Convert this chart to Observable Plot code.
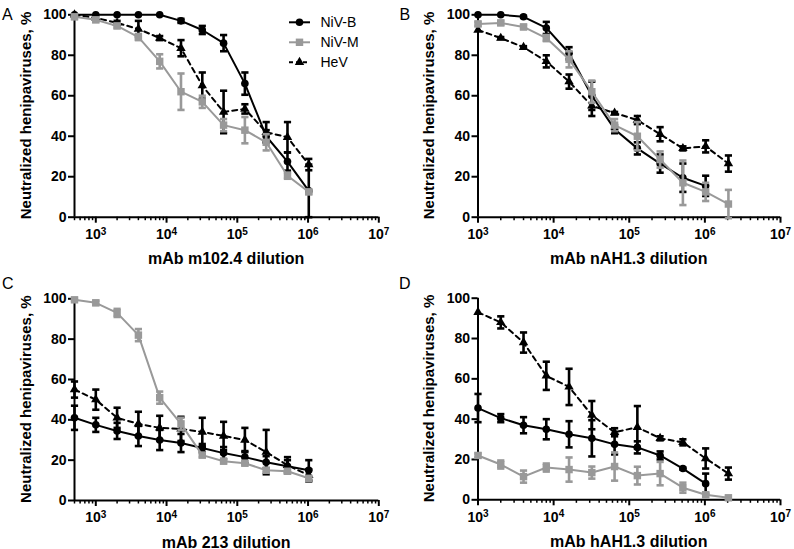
<!DOCTYPE html>
<html><head><meta charset="utf-8">
<script src="https://cdn.jsdelivr.net/npm/d3@7"></script>
<script src="https://cdn.jsdelivr.net/npm/@observablehq/plot@0.6"></script>
<style>
body{margin:0;background:#fff;}
#wrap{position:relative;width:794px;height:549px;overflow:hidden;background:#fff;font-family:Arial,"Liberation Sans",sans-serif;}
#wrap svg{position:absolute;overflow:visible;}
</style></head><body><div id="wrap"></div>
<script>
const FONT = 'Arial, "Liberation Sans", sans-serif';

// Dilutions (x values)
const dilutionsAC = [500, 1000, 2000, 4000, 8000, 16000, 32000, 64000, 128000, 256000, 512000, 1024000];
const dilutionsBD = [1000, 2000, 4000, 8000, 16000, 32000, 64000, 128000, 256000, 512000, 1024000, 2048000];

const seriesNames = ["NiV-B", "NiV-M", "HeV"];
const yTicks = [0, 20, 40, 60, 80, 100];
const xMajorTicks = [1e3, 1e4, 1e5, 1e6, 1e7];
const xMajorExponents = ["3", "4", "5", "6", "7"];

// Panel A: mAb m102.4
const aNivB  = [100, 100, 100, 100, 100, 97, 92.5, 86, 66, 40, 27.5, 13];
const aNivBe = [0, 0, 0, 0, 0, 1, 2, 4, 5.5, 3, 4.5, 13];
const aNivM  = [99, 97.5, 94.5, 89, 77, 62, 57, 45.5, 43, 37, 20.5, 12.5];
const aNivMe = [1, 1, 1, 1.5, 3.5, 9, 3, 3, 6.5, 4, 1.5, 1];
const aHeV   = [100, 98.5, 96, 93, 88.5, 83.5, 65, 52, 53.5, 42, 39.5, 26];
const aHeVe  = [0, 0, 1, 4, 1, 4, 6.5, 10.5, 2.3, 5, 7.5, 2.8];

// Panel B: mAb nAH1.3
const bNivB  = [100, 100, 99, 93.5, 81, 60, 43.5, 34, 26.5, 19.5, 15.5];
const bNivBe = [0, 0, 0.5, 3, 3, 7, 2, 3, 4.5, 7, 5];
const bNivM  = [95.5, 96, 94, 88.5, 78, 62, 45.5, 40, 28.5, 17, 12.5, 6.5];
const bNivMe = [1, 1, 1, 1.5, 4, 5.5, 3, 7, 4, 11, 4.5, 7];
const bHeV   = [92.5, 88.5, 84, 77, 67, 55, 51.5, 48, 41, 34, 35, 26.5];
const bHeVe  = [0, 0.5, 0.5, 3, 3.5, 5, 0.5, 2, 3.5, 1, 3, 4];

// Panel C: mAb 213
const cNivB  = [41, 37.5, 34.5, 32, 30, 28.5, 26, 23.5, 21.5, 19, 17, 15];
const cNivBe = [6, 3.5, 4, 5, 5, 4.5, 2, 3, 3, 3, 3, 5];
const cNivM  = [99.5, 98, 93, 82, 51, 38, 22.5, 19.5, 18.5, 15, 14.5, 11];
const cNivMe = [0.5, 1, 2, 3, 3, 3, 1, 1, 1, 1, 1, 1];
const cHeV   = [55, 50, 41, 38, 36, 35.5, 34, 32, 30, 24, 17.5, 12.5];
const cHeVe  = [4, 5, 5, 6, 6, 6, 7, 7, 6, 11, 4, 3];

// Panel D: mAb hAH1.3
const dNivB  = [45.5, 40.5, 37, 35, 32.5, 30.5, 27.5, 26, 22, 15.5, 8];
const dNivBe = [7, 2, 4, 5, 6.5, 9, 5, 3, 2, 0.5, 5];
const dNivM  = [22, 17.5, 11.5, 16, 15, 13.5, 16.5, 12, 13, 6, 2.5, 1];
const dNivMe = [1, 2, 3, 2, 6, 3, 7, 4.4, 5.8, 2.5, 1, 0.5];
const dHeV   = [93, 88, 78, 61.5, 56, 42, 33.5, 36, 30.5, 28.5, 20.5, 13];
const dHeVe  = [0, 3, 5, 7, 9, 7, 2, 10.5, 1, 1.5, 5, 3];

const xLabels = ["mAb m102.4 dilution", "mAb nAH1.3 dilution", "mAb 213 dilution", "mAb hAH1.3 dilution"];
const panelLetters = ["A", "B", "C", "D"];
const yLabel = "Neutralized henipaviruses, %";

const STY = {
  "NiV-B": {color: "#000", symbol: "circle", r: 3.8, dash: null},
  "NiV-M": {color: "#999", symbol: "square", r: 4.2, dash: null},
  "HeV":   {color: "#000", symbol: "triangle", r: 3.5, dash: "5,4"}
};

const capSymbol = {draw(ctx, size) { const r = Math.sqrt(size / Math.PI); ctx.moveTo(-r, 0); ctx.lineTo(r, 0); }};

function rows(xs, ys, es) { return ys.map((y, i) => ({x: xs[i], y, e: es[i]})); }

function minorTicks(lo, hi) {
  const out = [];
  for (let k = Math.floor(Math.log10(lo)); k < Math.log10(hi); k++)
    for (let m = 2; m <= 9; m++) { const v = m * Math.pow(10, k); if (v >= lo && v <= hi) out.push(v); }
  return out;
}

function panel(cfg) {
  const {left, top, width, height, mL, mR, mT, mB, domain, data, xLabel} = cfg;
  const order = ["HeV", "NiV-B", "NiV-M"];
  const marks = [];
  for (const name of order) {
    const s = STY[name];
    const d = data[name];
    marks.push(Plot.line(d, {x: "x", y: "y", stroke: s.color, strokeWidth: 2, strokeDasharray: s.dash}));
    const eb = d.filter(p => p.e > 0);
    marks.push(Plot.ruleX(eb, {x: "x", y1: p => p.y - p.e, y2: p => p.y + p.e, stroke: s.color, strokeWidth: 2.6}));
    const caps = eb.flatMap(p => [{x: p.x, y: p.y - p.e}, {x: p.x, y: p.y + p.e}]);
    marks.push(Plot.dot(caps, {x: "x", y: "y", symbol: capSymbol, r: 3.6, stroke: s.color, strokeWidth: 2.6, fill: "none"}));
    marks.push(Plot.dot(d, {x: "x", y: "y", symbol: s.symbol, r: s.r, fill: s.color, stroke: "none"}));
  }
  const svg = Plot.plot({
    width, height, marginLeft: mL, marginRight: mR, marginTop: mT, marginBottom: mB,
    style: {fontFamily: FONT, color: "#000", background: "transparent", overflow: "visible"},
    x: {type: "log", domain},
    y: {domain: [0, 100]},
    marks: [
      Plot.axisX({ticks: minorTicks(domain[0], domain[1]), tickSize: 3.5, tickFormat: () => "", strokeWidth: 1.5, label: null}),
      Plot.axisX({ticks: xMajorTicks, tickSize: 6, tickPadding: 6, tickFormat: v => "10^" + xMajorExponents[xMajorTicks.indexOf(v)], fontSize: 14, fontWeight: "bold", strokeWidth: 2, label: null}),
      Plot.axisY({ticks: yTicks, tickSize: 6, tickPadding: 2, fontSize: 14, fontWeight: "bold", strokeWidth: 2, label: null}),
      Plot.ruleY([0], {stroke: "#000", strokeWidth: 2}),
      Plot.ruleX([domain[0]], {stroke: "#000", strokeWidth: 2}),
      ...marks
    ]
  });
  svg.style.left = left + "px";
  svg.style.top = top + "px";
  const s = d3.select(svg);
  // superscript exponents on the decade labels
  s.selectAll("text").each(function() {
    const t = this.textContent;
    const m = /^10\^(\d)$/.exec(t);
    if (!m) return;
    const el = d3.select(this);
    el.text(null);
    el.append("tspan").text("10");
    el.append("tspan").attr("dy", "-0.45em").attr("font-size", 10).text(m[1]);
  });
  const zeroY = height - mB;
  s.append("text").attr("x", (mL + width - mR) / 2).attr("y", zeroY + 47.5)
    .attr("text-anchor", "middle").attr("font-size", 16).attr("font-weight", "bold")
    .attr("font-family", FONT).attr("fill", "#000").text(xLabel);
  s.append("text").attr("transform", `translate(${mL - 49},${(mT + zeroY) / 2}) rotate(-90)`)
    .attr("text-anchor", "middle").attr("dominant-baseline", "central")
    .attr("font-size", 15).attr("font-weight", "bold").attr("font-family", FONT)
    .attr("fill", "#000").text(yLabel);
  document.getElementById("wrap").appendChild(svg);
}

const mk = (xs, b, be, m, me, h, he) => ({"NiV-B": rows(xs, b, be), "NiV-M": rows(xs, m, me), "HeV": rows(xs, h, he)});

panel({left: 0, top: 0, width: 397, height: 270, mL: 74, mR: 18.7, mT: 14.3, mB: 53.3,
  domain: [500, 1e7], data: mk(dilutionsAC, aNivB, aNivBe, aNivM, aNivMe, aHeV, aHeVe), xLabel: xLabels[0]});
panel({left: 397, top: 0, width: 397, height: 270, mL: 80.5, mR: 14, mT: 14.3, mB: 53.3,
  domain: [1e3, 1e7], data: mk(dilutionsBD, bNivB, bNivBe, bNivM, bNivMe, bHeV, bHeVe), xLabel: xLabels[1]});
panel({left: 0, top: 284, width: 397, height: 265, mL: 74, mR: 18.7, mT: 14.3, mB: 49,
  domain: [500, 1e7], data: mk(dilutionsAC, cNivB, cNivBe, cNivM, cNivMe, cHeV, cHeVe), xLabel: xLabels[2]});
panel({left: 397, top: 284, width: 397, height: 265, mL: 80.5, mR: 14, mT: 13.7, mB: 49.7,
  domain: [1e3, 1e7], data: mk(dilutionsBD, dNivB, dNivBe, dNivM, dNivMe, dHeV, dHeVe), xLabel: xLabels[3]});

// Overlay: panel letters and legend
const ov = d3.select("#wrap").append("svg").attr("width", 794).attr("height", 549)
  .style("left", "0px").style("top", "0px").style("pointer-events", "none");
const letterPos = [[2, 20], [399.5, 19.5], [2, 289], [399, 289]];
panelLetters.forEach((L, i) => {
  ov.append("text").attr("x", letterPos[i][0]).attr("y", letterPos[i][1]).attr("font-size", 16)
    .attr("font-family", FONT).attr("fill", "#000").text(L);
});
seriesNames.forEach((name, i) => {
  const s = STY[name];
  const y = 22.3 + 20 * i;
  ov.append("line").attr("x1", 289).attr("x2", 310).attr("y1", y).attr("y2", y)
    .attr("stroke", s.color).attr("stroke-width", 2).attr("stroke-dasharray", s.dash ? "4,3" : null);
  const sym = {circle: d3.symbolCircle, square: d3.symbolSquare, triangle: d3.symbolTriangle}[s.symbol];
  ov.append("path").attr("d", d3.symbol(sym, Math.PI * s.r * s.r)()).attr("transform", `translate(299.5,${y})`).attr("fill", s.color);
  ov.append("text").attr("x", 320.5).attr("y", y).attr("dominant-baseline", "central").attr("font-size", 14)
    .attr("font-family", FONT).attr("fill", "#000").text(name);
});
</script></body></html>
